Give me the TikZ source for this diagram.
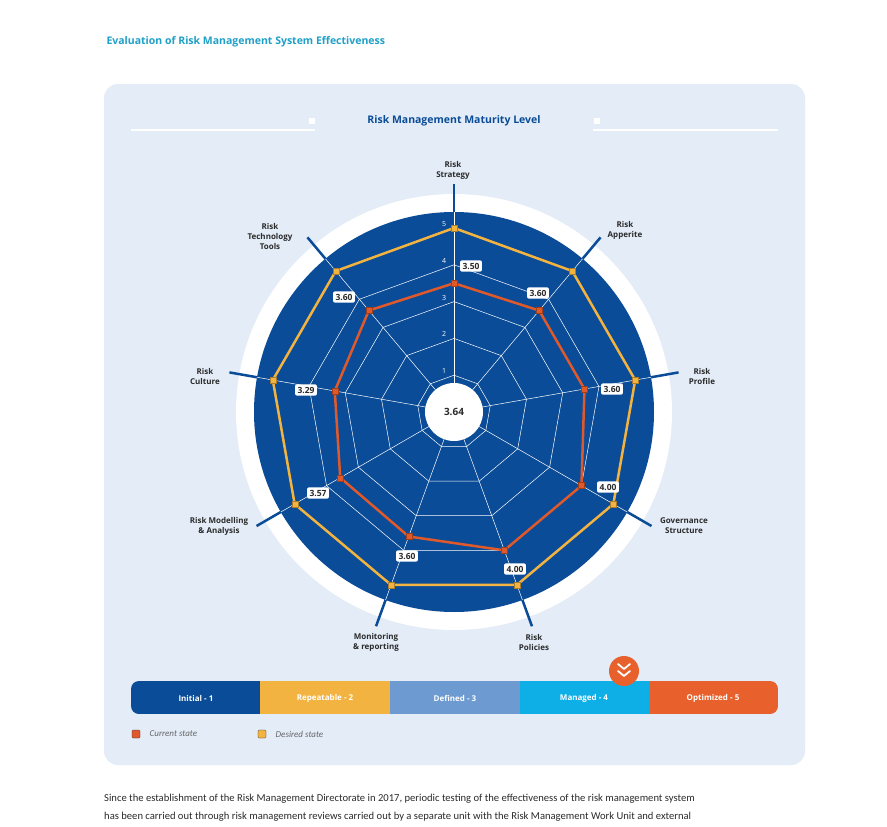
\documentclass[tikz,border=0pt]{standalone}
\usepackage{fontspec}
\setmainfont{Open Sans}
\newfontfamily\bodyfont{Carlito}
\usetikzlibrary{positioning}
\definecolor{panelbg}{HTML}{E3ECF7}
\definecolor{deepblue}{HTML}{0A4C97}
\definecolor{headteal}{HTML}{1EA0C8}
\definecolor{desiredc}{HTML}{F2B340}
\definecolor{currentc}{HTML}{E0592B}
\definecolor{defblue}{HTML}{6D9BD1}
\definecolor{mancyan}{HTML}{0EAFE6}
\definecolor{optorange}{HTML}{E8612C}
\definecolor{labtext}{HTML}{2B2B2B}
\tikzset{
  axislabel/.style={font=\fontsize{8}{10}\selectfont\bfseries, text=labtext, align=center},
  valuebox/.style={fill=white, rounded corners=2pt, inner sep=2.5pt, font=\fontsize{8.5}{10}\selectfont\bfseries, text=labtext},
  levelnum/.style={font=\fontsize{7}{8}\selectfont, text=white},
  desiredmark/.style={fill=desiredc, draw=desiredc!70!black, line width=0.3pt, minimum size=6pt, inner sep=0pt},
  currentmark/.style={fill=currentc, draw=currentc!70!black, line width=0.3pt, minimum size=6pt, inner sep=0pt},
  barseg/.style={minimum height=33pt, inner sep=0pt, text=white, font=\fontsize{8}{10}\selectfont\bfseries}
}
\begin{document}
\begin{tikzpicture}[x=1pt,y=-1pt]
    \useasboundingbox (0,0) rectangle (887,827);
    \fill[white] (0,0) rectangle (887,827);

    % Heading and panel
    \node[anchor=west, text=headteal, font=\fontsize{10.5}{12}\selectfont\bfseries] (heading) at (103,42) {Evaluation of Risk Management System Effectiveness};
    \fill[panelbg, rounded corners=14pt] (104,84) rectangle (805,765);
    \node[text=deepblue, font=\fontsize{10.5}{12}\selectfont\bfseries] (title) at (454,121) {Risk Management Maturity Level};
    \fill[white] (131,129) rectangle (315,131);
    \fill[white] (593,129) rectangle (778,131);
    \fill[white] (309,118) rectangle (315,124);
    \fill[white] (594,118) rectangle (600,124);

    % Radar
    \begin{scope}[shift={(454,412)}, y=1pt]
        \fill[white] (0,0) circle (218);
        \foreach \a in {90,50,10,-30,-70,-110,-150,170,130}
            \draw[deepblue, line width=2.5pt] (\a:195) -- (\a:228);
        \fill[deepblue] (0,0) circle (200);

        % grid
        \foreach \v in {1,...,5}
            \draw[white, line width=0.5pt] (90:\v*36.8) \foreach \a in {50,10,-30,-70,-110,-150,170,130} { -- (\a:\v*36.8) } -- cycle;
        \foreach \a in {90,50,10,-30,-70,-110,-150,170,130}
            \draw[white, line width=0.5pt] (0,0) -- (\a:200);
        \foreach \v in {1,...,5}
            \node[levelnum] (lev\v) at (-10,\v*36.8+4) {\v};

        % desired state
        \draw[desiredc, line width=2.5pt] (90:184) \foreach \a in {50,10,-30,-70,-110,-150,170,130} { -- (\a:184) } -- cycle;
        % current state
        \draw[currentc, line width=2.5pt] (90:3.50*36.8) -- (50:3.60*36.8) -- (10:3.60*36.8) -- (-30:4.00*36.8) -- (-70:4.00*36.8) -- (-110:3.60*36.8) -- (-150:3.57*36.8) -- (170:3.29*36.8) -- (130:3.60*36.8) -- cycle;
        \foreach \a/\v [count=\i] in {90/3.50,50/3.60,10/3.60,-30/4.00,-70/4.00,-110/3.60,-150/3.57,170/3.29,130/3.60} {
            \node[desiredmark] (des\i) at (\a:184) {};
            \node[currentmark] (cur\i) at (\a:\v*36.8) {};
        }

        \fill[white] (0,0) circle (29);
        \node[font=\fontsize{10}{12}\selectfont\bfseries, text=labtext] (avg) at (0,0) {3.64};
    \end{scope}

    % value labels
    \node[valuebox] (v1) at (471,266) {3.50};
    \node[valuebox] (v2) at (538,293) {3.60};
    \node[valuebox] (v3) at (612,389) {3.60};
    \node[valuebox] (v4) at (608,487) {4.00};
    \node[valuebox] (v5) at (515,569) {4.00};
    \node[valuebox] (v6) at (407,556) {3.60};
    \node[valuebox] (v7) at (318,493) {3.57};
    \node[valuebox] (v8) at (306,390) {3.29};
    \node[valuebox] (v9) at (344,297) {3.60};

    % axis labels
    \node[axislabel] (strategy) at (453,170) {Risk\\Strategy};
    \node[axislabel] (apperite) at (625,230) {Risk\\Apperite};
    \node[axislabel] (profile) at (702,376) {Risk\\Profile};
    \node[axislabel] (governance) at (684,526) {Governance\\Structure};
    \node[axislabel] (policies) at (534,642) {Risk\\Policies};
    \node[axislabel] (monitoring) at (376,642) {Monitoring\\\& reporting};
    \node[axislabel] (modelling) at (219,526) {Risk Modelling\\\& Analysis};
    \node[axislabel] (culture) at (205,376) {Risk\\Culture};
    \node[axislabel] (technology) at (270,236) {Risk\\Technology\\Tools};

    % maturity scale bar
    \begin{scope}
        \clip[rounded corners=8pt] (131,681) rectangle (778,714);
        \fill[deepblue] (131,681) rectangle (260,714);
        \fill[desiredc] (260,681) rectangle (390,714);
        \fill[defblue] (390,681) rectangle (520,714);
        \fill[mancyan] (520,681) rectangle (649,714);
        \fill[optorange] (649,681) rectangle (778,714);
    \end{scope}
    \node[barseg] (initial) at (196,698) {Initial - 1};
    \node[barseg] (repeatable) at (325,698) {Repeatable - 2};
    \node[barseg] (defined) at (455,698) {Defined - 3};
    \node[barseg] (managed) at (584,698) {Managed - 4};
    \node[barseg] (optimized) at (713,698) {Optimized - 5};

    \fill[optorange] (624,671) circle (15);
    \draw[white, line width=1.8pt, line cap=round, line join=round] (618,664) -- (624,669) -- (630,664);
    \draw[white, line width=1.8pt, line cap=round, line join=round] (618,671) -- (624,676) -- (630,671);

    % legend
    \node[currentmark, minimum size=8pt, draw=labtext, rounded corners=1pt] (legcur) at (136,734) {};
    \node[right=6pt of legcur, font=\bodyfont\fontsize{9}{10}\selectfont\itshape, text=gray!80!black] (legcurtext) {Current state};
    \node[desiredmark, minimum size=8pt, draw=labtext, rounded corners=1pt] (legdes) at (262,734) {};
    \node[right=6pt of legdes, font=\bodyfont\fontsize{9}{10}\selectfont\itshape, text=gray!80!black] (legdestext) {Desired state};

    % body text
    \node[anchor=west, inner sep=0pt, font=\bodyfont\fontsize{10.6}{12}\selectfont, text=labtext] (body1) at (104,799) {Since the establishment of the Risk Management Directorate in 2017, periodic testing of the effectiveness of the risk management system};
    \node[anchor=west, inner sep=0pt, font=\bodyfont\fontsize{10.6}{12}\selectfont, text=labtext] (body2) at (104,817) {has been carried out through risk management reviews carried out by a separate unit with the Risk Management Work Unit and external};
\end{tikzpicture}
\end{document}
